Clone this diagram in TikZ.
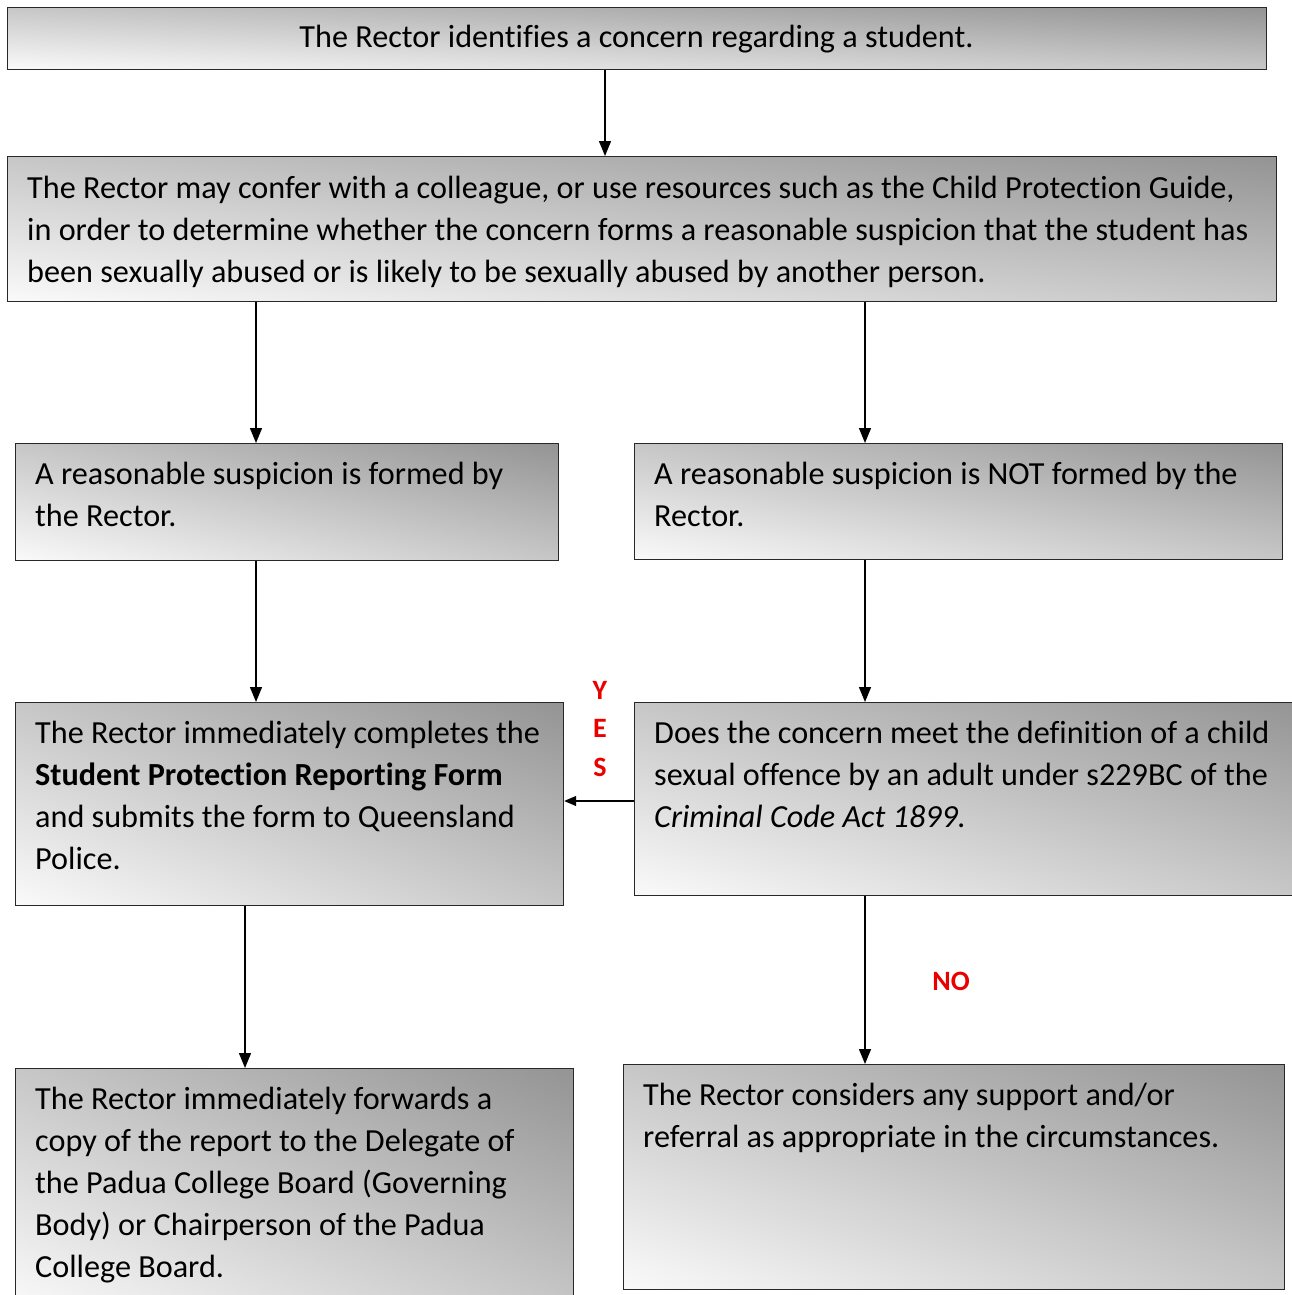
\documentclass[tikz,border=0pt]{standalone}
\usepackage{fontspec}
\setmainfont{Carlito}[Ligatures=CommonOff]
\usetikzlibrary{arrows.meta,calc}
\definecolor{yesred}{RGB}{235,0,0}
\definecolor{edge}{RGB}{40,40,40}
% linear diagonal gradient in the box's own proportions:
% the box covers the central 25bp..75bp of the shading square;
% grey = 0.98 at the bottom-left corner down to 0.58 at the top-right corner
\pgfdeclarefunctionalshading{boxshade}{\pgfpointorigin}{\pgfpoint{100bp}{100bp}}{}{%
  add 0.004 mul 1.18 exch sub dup dup}
\tikzset{
  box/.style={draw=edge, line width=1.2pt, shade, shading=boxshade,
    shading angle=0, anchor=north west, inner sep=0pt},
  txt/.style={anchor=base west, align=left, inner sep=0pt,
    font=\fontsize{32.2}{42}\selectfont},
  arr/.style={-{Triangle[length=15pt,width=12pt]}, line width=1.4pt, draw=black},
  lab/.style={text=yesred, inner sep=0pt, font=\fontsize{28}{38.5}\selectfont\bfseries},
}
\begin{document}
\begin{tikzpicture}[x=1pt,y=-1pt]
\useasboundingbox[fill=white] (0,0) rectangle (1292,1295);
% boxes
\node[box, minimum width=1259pt, minimum height=62pt] (b1) at (7,7) {};
\node[box, minimum width=1269pt, minimum height=145pt] (b2) at (7,156) {};
\node[box, minimum width=543pt, minimum height=117pt] (b3) at (15,443) {};
\node[box, minimum width=648pt, minimum height=116pt] (b4) at (634,443) {};
\node[box, minimum width=548pt, minimum height=203pt] (b5) at (15,702) {};
\node[box, minimum width=670pt, minimum height=193pt] (b6) at (634,702) {};
\node[box, minimum width=558pt, minimum height=240pt] (b7) at (15,1068) {};
\node[box, minimum width=661pt, minimum height=225pt] (b8) at (623,1064) {};
% texts (anchored at the baseline of their last line)
\node[txt, anchor=base] (t1) at (636.5,48) {The Rector identifies a concern regarding a student.};
\node[txt] (t2) at (27,282) {The Rector may confer with a colleague, or use resources such as the Child Protection Guide,\\in order to determine whether the concern forms a reasonable suspicion that the student has\\been sexually abused or is likely to be sexually abused by another person.};
\node[txt] (t3) at (35,526) {A reasonable suspicion is formed by\\the Rector.};
\node[txt] (t4) at (654,526) {A reasonable suspicion is NOT formed by the\\Rector.};
\node[txt] (t5) at (35,869) {The Rector immediately completes the\\\textbf{Student Protection Reporting Form}\\and submits the form to Queensland\\Police.};
\node[txt] (t6) at (654,827) {Does the concern meet the definition of a child\\sexual offence by an adult under s229BC of the\\\textit{Criminal Code Act 1899.}};
\node[txt] (t7) at (35,1277) {The Rector immediately forwards a\\copy of the report to the Delegate of\\the Padua College Board (Governing\\Body) or Chairperson of the Padua\\College Board.};
\node[txt] (t8) at (643,1147) {The Rector considers any support and/or\\referral as appropriate in the circumstances.};
% labels
\node[lab, anchor=base, align=center] (yes) at (600,776) {Y\\E\\S};
\node[lab, anchor=base] (no) at (951,990) {NO};
% arrows
\draw[arr] (605,0 |- b1.south) -- (605,0 |- b2.north);
\draw[arr] (256,0 |- b2.south) -- (256,0 |- b3.north);
\draw[arr] (865,0 |- b2.south) -- (865,0 |- b4.north);
\draw[arr] (256,0 |- b3.south) -- (256,0 |- b5.north);
\draw[arr] (865,0 |- b4.south) -- (865,0 |- b6.north);
\draw[arr, line width=1.2pt, -{Triangle[length=12pt,width=10pt]}] (b6.west |- 0,801) -- (b5.east |- 0,801);
\draw[arr] (245,0 |- b5.south) -- (245,0 |- b7.north);
\draw[arr] (865,0 |- b6.south) -- (865,0 |- b8.north);
\end{tikzpicture}
\end{document}
